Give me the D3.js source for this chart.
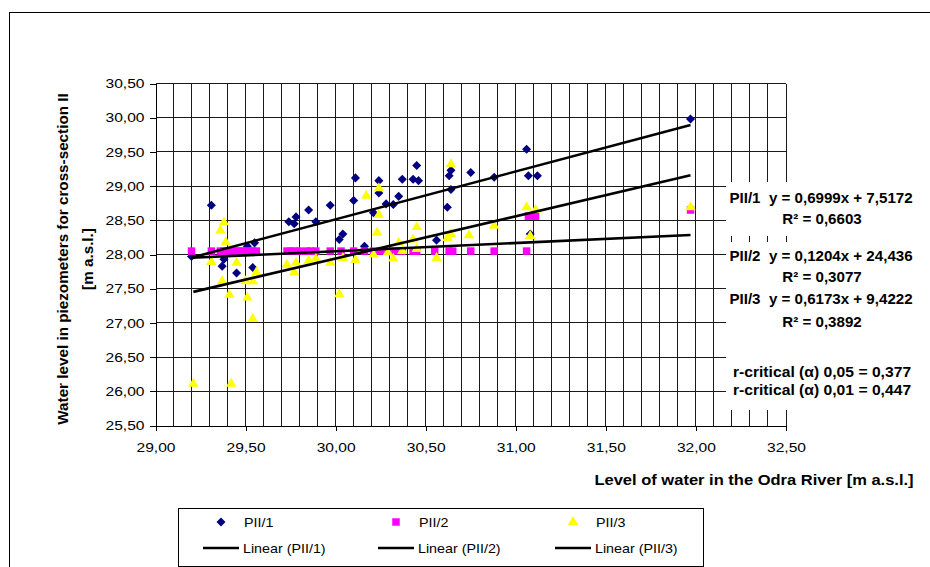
<!DOCTYPE html>
<html>
<head>
<meta charset="utf-8">
<script src="https://cdn.jsdelivr.net/npm/d3@7"></script>
<style>
  body { margin: 0; background: #fff; }
  svg text { font-family: "Liberation Sans", Arial, sans-serif; fill: #000; }
</style>
</head>
<body>
<svg id="chart" width="930" height="567"></svg>
<script>
// Axis ticks
const xTicks = [29.0, 29.5, 30.0, 30.5, 31.0, 31.5, 32.0, 32.5];
const yTicks = [25.5, 26.0, 26.5, 27.0, 27.5, 28.0, 28.5, 29.0, 29.5, 30.0, 30.5];

// Piezometer PII/1
const pii1X = [29.20, 29.31, 29.37, 29.38, 29.45, 29.51, 29.54, 29.55, 29.74, 29.77, 29.78, 29.85, 29.89, 29.97,
  30.02, 30.04, 30.10, 30.11, 30.16, 30.21, 30.24, 30.24, 30.28, 30.32, 30.35, 30.37, 30.43, 30.45, 30.46,
  30.56, 30.62, 30.63, 30.64, 30.64, 30.75, 30.88, 31.06, 31.07, 31.08, 31.12, 31.97];
const pii1Y = [27.97, 28.72, 27.83, 27.93, 27.73, 28.12, 27.81, 28.17, 28.48, 28.45, 28.55, 28.65, 28.48, 28.72,
  28.22, 28.30, 28.79, 29.12, 28.12, 28.61, 29.08, 28.90, 28.74, 28.73, 28.85, 29.10, 29.10, 29.30, 29.08,
  28.21, 28.69, 29.15, 28.95, 29.23, 29.20, 29.13, 29.54, 29.15, 28.30, 29.15, 29.98];

// Piezometer PII/2
const pii2X = [29.20, 29.31, 29.36, 29.38, 29.40, 29.42, 29.44, 29.46, 29.48, 29.50, 29.52, 29.54, 29.56,
  29.73, 29.75, 29.77, 29.80, 29.84, 29.86, 29.89, 29.97, 30.03, 30.10, 30.16, 30.21, 30.25, 30.29, 30.33,
  30.37, 30.43, 30.45, 30.55, 30.63, 30.65, 30.75, 30.88, 31.06, 31.07, 31.11, 31.97];
const pii2Y = [28.05, 28.05, 28.05, 28.05, 28.05, 28.05, 28.05, 28.05, 28.05, 28.05, 28.05, 28.05, 28.05,
  28.05, 28.05, 28.05, 28.05, 28.05, 28.05, 28.05, 28.05, 28.05, 28.05, 28.05, 28.05, 28.05, 28.05, 28.05,
  28.05, 28.05, 28.05, 28.05, 28.05, 28.05, 28.05, 28.05, 28.05, 28.56, 28.56, 28.65];

// Piezometer PII/3
const pii3X = [29.21, 29.31, 29.36, 29.37, 29.38, 29.39, 29.41, 29.42, 29.45, 29.50, 29.51, 29.54, 29.54, 29.56,
  29.73, 29.77, 29.78, 29.85, 29.89, 29.97, 30.02, 30.04, 30.11, 30.17, 30.21, 30.23, 30.24, 30.24, 30.29,
  30.32, 30.35, 30.37, 30.43, 30.45, 30.45, 30.56, 30.62, 30.64, 30.64, 30.74, 30.88, 31.06, 31.08, 31.11, 31.97];
const pii3Y = [26.11, 27.89, 28.35, 27.61, 28.47, 28.18, 27.41, 26.11, 27.88, 27.61, 27.37, 27.61, 27.06, 27.74,
  27.85, 27.74, 27.88, 27.91, 27.94, 27.88, 27.42, 27.95, 27.92, 28.86, 28.00, 28.32, 28.97, 28.58, 28.03,
  27.94, 28.17, 28.05, 28.22, 28.40, 28.08, 27.95, 28.24, 28.30, 29.32, 28.28, 28.42, 28.69, 28.27, 28.65, 28.69];

// Linear trend lines: slope, intercept, R²
const seriesNames = ["PII/1", "PII/2", "PII/3"];
const trendSlope = [0.6999, 0.1204, 0.6173];
const trendIntercept = [7.5172, 24.436, 9.4222];
const trendSlopeText = ["0,6999", "0,1204", "0,6173"];
const trendInterceptText = ["7,5172", "24,436", "9,4222"];
const trendR2Text = ["0,6603", "0,3077", "0,3892"];
const rCriticalAlpha = ["0,05", "0,01"];
const rCriticalValue = ["0,377", "0,447"];

const series = [
  { name: seriesNames[0], xs: pii1X, ys: pii1Y, color: "#000080", shape: "diamond" },
  { name: seriesNames[1], xs: pii2X, ys: pii2Y, color: "#FF00FF", shape: "square" },
  { name: seriesNames[2], xs: pii3X, ys: pii3Y, color: "#FFFF00", shape: "triangle" }
];

const svg = d3.select("#chart");
const locale = d3.formatLocale({ decimal: ",", thousands: " ", grouping: [3], currency: ["", ""] });
const fmt = locale.format(".2f");

const x = d3.scaleLinear().domain([29, 32.5]).range([155.5, 786]);
const y = d3.scaleLinear().domain([25.5, 30.5]).range([425.5, 83.5]);

// text placed at (cx, cy), optionally rotated, with a horizontal glyph stretch
function label(g, txt, cx, cy, opts) {
  return g.append("text")
    .attr("text-anchor", opts.anchor || "middle")
    .attr("font-size", opts.size)
    .attr("font-weight", opts.weight || "normal")
    .style("white-space", "pre")
    .attr("transform", `translate(${cx},${cy}) rotate(${opts.rotate || 0}) scale(${opts.sx || 1},1)`)
    .text(txt);
}

// chart frame
svg.append("rect").attr("x", 9.5).attr("y", 12.5).attr("width", 1000).attr("height", 1000)
  .attr("fill", "#fff").attr("stroke", "#000").attr("stroke-width", 1);

// grid
const grid = svg.append("g").attr("shape-rendering", "crispEdges");
const vLines = d3.range(1, 36).map(i => 29 + i / 10);
grid.selectAll("line.v").data(vLines).join("line")
  .attr("x1", d => x(d)).attr("x2", d => x(d))
  .attr("y1", y(30.5)).attr("y2", y(25.5))
  .attr("stroke", "#1a1a1a");
grid.selectAll("line.h").data(yTicks.slice(1)).join("line")
  .attr("x1", x(29)).attr("x2", x(32.5))
  .attr("y1", d => y(d)).attr("y2", d => y(d))
  .attr("stroke", "#1a1a1a");

// axes
const xAxis = svg.append("g").attr("transform", `translate(0,${y(25.5)})`)
  .call(d3.axisBottom(x).tickValues(xTicks).tickFormat(fmt).tickSizeInner(5).tickSizeOuter(0));
const yAxis = svg.append("g").attr("transform", `translate(${x(29)},0)`)
  .call(d3.axisLeft(y).tickValues(yTicks).tickFormat(fmt).tickSizeInner(6).tickSizeOuter(0));
[xAxis, yAxis].forEach(a => {
  a.select(".domain").attr("stroke", "#000").attr("shape-rendering", "crispEdges");
  a.selectAll(".tick line").attr("stroke", "#000").attr("shape-rendering", "crispEdges");
  a.selectAll(".tick text").attr("font-size", 13).attr("font-family", null).attr("fill", "#000");
});
xAxis.selectAll(".tick text").attr("y", 17).attr("x", 0).attr("transform", "scale(1.2,1)");
yAxis.selectAll(".tick text").attr("x", -11 / 1.2).attr("transform", "scale(1.2,1)");

// markers
function symbolPath(shape) {
  if (shape === "diamond") return d3.symbol(d3.symbolSquare, 41)();
  if (shape === "square") return d3.symbol(d3.symbolSquare, 56)();
  return d3.symbol(d3.symbolTriangle, 46)();
}
series.forEach(s => {
  const pts = s.xs.map((v, i) => [v, s.ys[i]]);
  svg.append("g").selectAll("path").data(pts).join("path")
    .attr("d", symbolPath(s.shape))
    .attr("transform", d => `translate(${x(d[0])},${y(d[1])})` + (s.shape === "diamond" ? " rotate(45)" : ""))
    .attr("fill", s.color);
});

// trend lines
series.forEach((s, i) => {
  const [x0, x1] = d3.extent(s.xs);
  svg.append("line")
    .attr("x1", x(x0)).attr("y1", y(trendSlope[i] * x0 + trendIntercept[i]))
    .attr("x2", x(x1)).attr("y2", y(trendSlope[i] * x1 + trendIntercept[i]))
    .attr("stroke", "#000").attr("stroke-width", 2.6);
});

// equation labels on white boxes
svg.append("rect").attr("x", 726).attr("y", 182).attr("width", 200).attr("height", 54).attr("fill", "#fff");
svg.append("rect").attr("x", 726).attr("y", 242).attr("width", 200).attr("height", 168).attr("fill", "#fff");
const eq = svg.append("g");
const eqY = [[203, 224], [261, 282], [304, 327]];
series.forEach((s, i) => {
  label(eq, `${s.name}  y = ${trendSlopeText[i]}x + ${trendInterceptText[i]}`, 821, eqY[i][0], { size: 14, weight: "bold", sx: 1.08 });
  label(eq, `R² = ${trendR2Text[i]}`, 822, eqY[i][1], { size: 14, weight: "bold", sx: 1.08 });
});
const rcY = [377, 395];
rCriticalAlpha.forEach((a, i) => {
  label(eq, `r-critical (α) ${a} = ${rCriticalValue[i]}`, 822, rcY[i], { size: 14, weight: "bold", sx: 1.12 });
});

// axis titles
label(svg, "Level of water in the Odra River [m a.s.l.]", 754, 485, { size: 14, weight: "bold", sx: 1.18 });
label(svg, "Water level in piezometers for cross-section II", 68, 259, { size: 14, weight: "bold", rotate: -90, sx: 1.09 });
label(svg, "[m a.s.l.]", 93, 259, { size: 14, weight: "bold", rotate: -90, sx: 1.09 });

// legend
const lg = svg.append("g");
lg.append("rect").attr("x", 178.5).attr("y", 508.5).attr("width", 525).attr("height", 58)
  .attr("fill", "#fff").attr("stroke", "#000").attr("shape-rendering", "crispEdges");
const legX = [221, 396, 573];
series.forEach((s, i) => {
  lg.append("path").attr("d", symbolPath(s.shape))
    .attr("transform", `translate(${legX[i]},522)` + (s.shape === "diamond" ? " rotate(45)" : ""))
    .attr("fill", s.color);
  label(lg, s.name, legX[i] + 23, 527, { size: 13, anchor: "start", sx: 1.1 });
  lg.append("line").attr("x1", legX[i] - 18).attr("x2", legX[i] + 18)
    .attr("y1", 548).attr("y2", 548).attr("stroke", "#000").attr("stroke-width", 2.6);
  label(lg, `Linear (${s.name})`, legX[i] + 22, 553, { size: 13, anchor: "start", sx: 1.1 });
});
</script>
</body>
</html>
